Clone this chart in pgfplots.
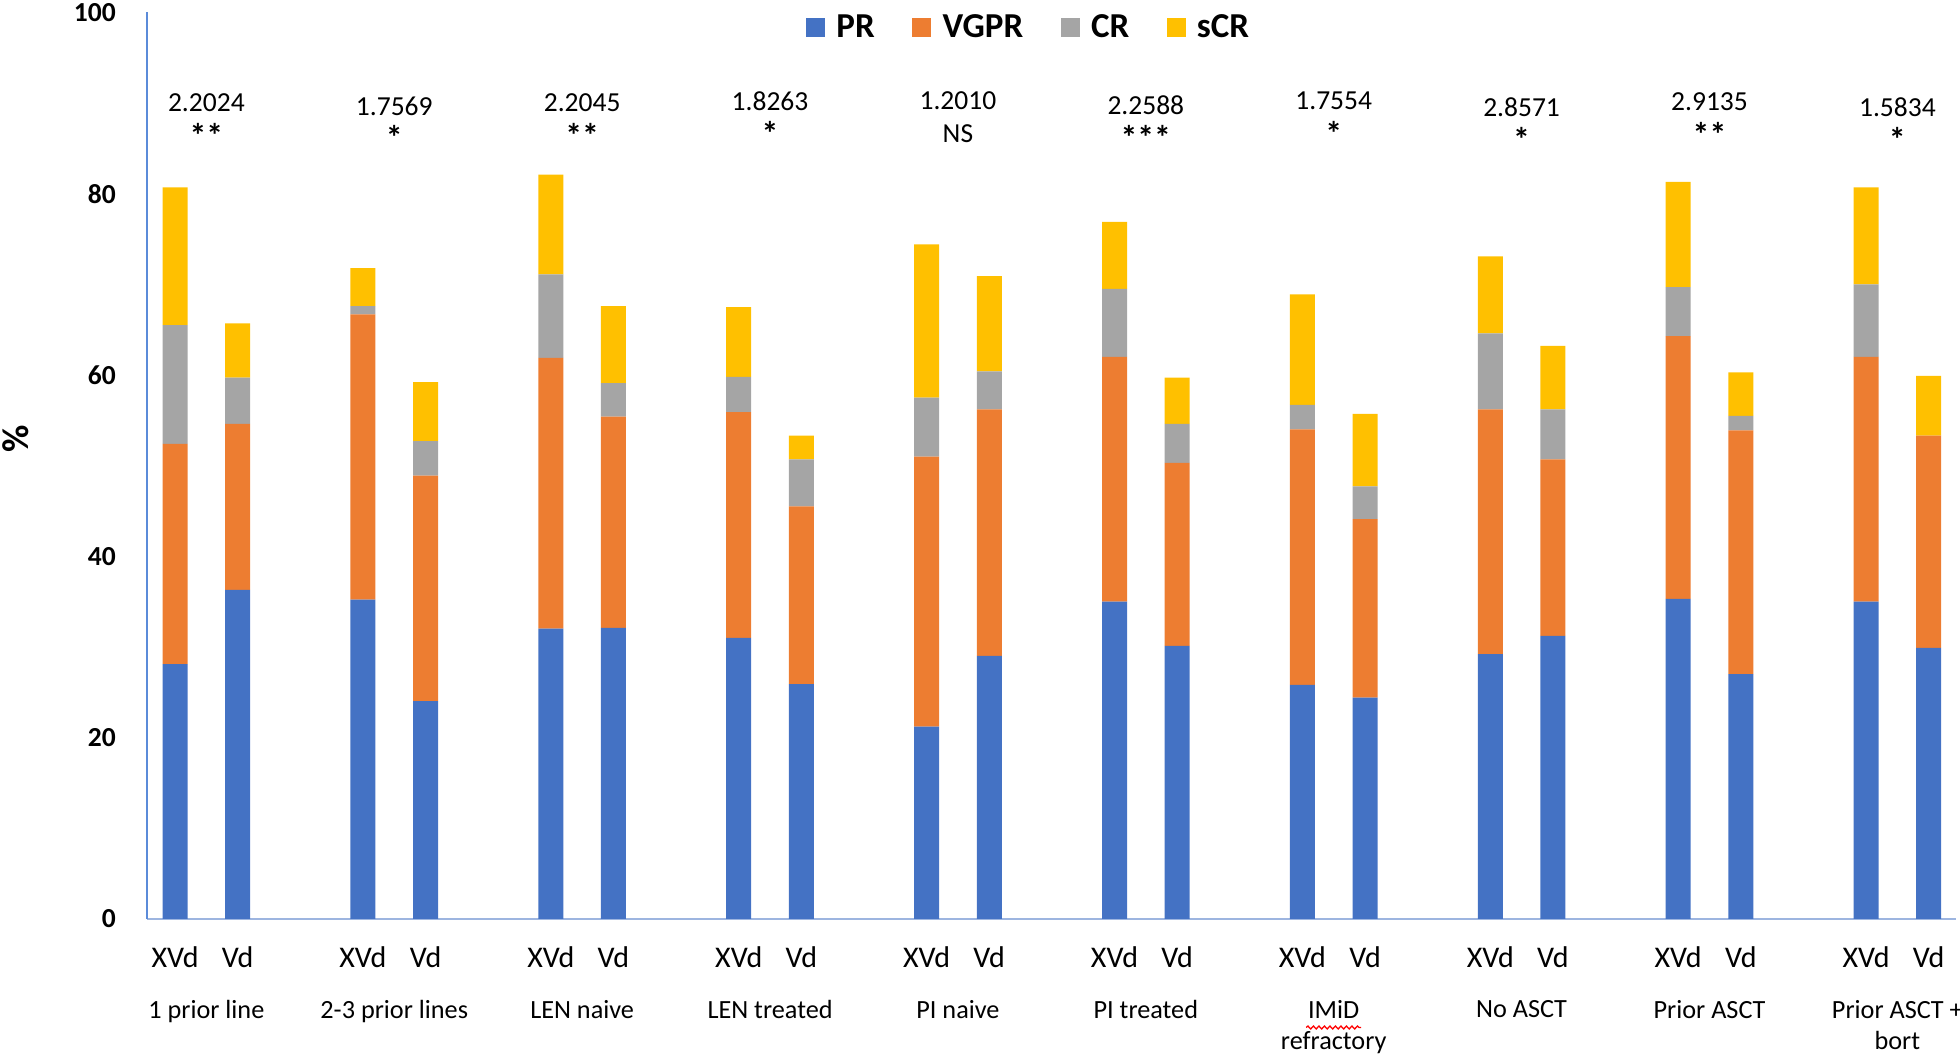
\documentclass[border=0pt]{standalone}
\usepackage{fontspec}
\setmainfont{Carlito}
\usepackage{pgfplots}
\usepackage{pgfplotstable}
\pgfplotsset{compat=1.18}
\usetikzlibrary{decorations.pathmorphing}
\definecolor{cPR}{HTML}{4472C4}
\definecolor{cVGPR}{HTML}{ED7D31}
\definecolor{cCR}{HTML}{A5A5A5}
\definecolor{csCR}{HTML}{FFC000}
\definecolor{axblue}{HTML}{5B8BD9}
\definecolor{axblue2}{HTML}{9DB5E0}
\tikzset{
  numlab/.style={font=\fontsize{11}{13}\selectfont, inner sep=0pt},
  starlab/.style={font=\fontsize{13.5}{15}\selectfont\bfseries, inner sep=0pt, anchor=base, yshift=-4.6pt},
  grplab/.style={font=\fontsize{10.5}{12.5}\selectfont, inner sep=0pt, anchor=north, align=center, yshift=-32.5pt},
}
\pgfplotsset{sqlegend/.style={legend image code/.code={\fill[##1] (0pt,-3.6pt) rectangle (7.6pt,4pt);}}}

\pgfplotstableread{
x PR VGPR CR sCR
0 28.1 24.3 13.1 15.2
1 36.3 18.3 5.1 6.0
3 35.2 31.5 0.9 4.2
4 24.0 24.9 3.8 6.5
6 32.0 29.9 9.2 11.0
7 32.1 23.3 3.7 8.5
9 31.0 24.9 3.9 7.7
10 25.9 19.6 5.2 2.6
12 21.2 29.8 6.5 16.9
13 29.0 27.2 4.2 10.5
15 35.0 27.0 7.5 7.4
16 30.1 20.2 4.3 5.1
18 25.8 28.2 2.7 12.2
19 24.4 19.7 3.6 8.0
21 29.2 27.0 8.4 8.5
22 31.2 19.5 5.5 7.0
24 35.3 29.0 5.4 11.6
25 27.0 26.9 1.6 4.8
27 35.0 27.0 8.0 10.7
28 29.9 23.4 0.0 6.6
}\data

\begin{document}
\begin{tikzpicture}
\begin{axis}[
  scale only axis, width=723.5pt, height=362.5pt,
  xmin=-0.44, xmax=28.44, ymin=0, ymax=100,
  ybar stacked, bar width=10pt,
  axis x line*=bottom, axis y line*=left,
  x axis line style={color=axblue2, line width=0.8pt},
  y axis line style={color=axblue, line width=0.8pt},
  ytick={0,20,40,60,80,100}, major tick length=0pt,
  /pgf/number format/assume math mode=true,
  yticklabel style={font=\fontsize{11}{13}\selectfont\bfseries, inner sep=0pt, anchor=east, xshift=-12.5pt},
  xtick={0,1,3,4,6,7,9,10,12,13,15,16,18,19,21,22,24,25,27,28},
  xticklabels={XVd,Vd,XVd,Vd,XVd,Vd,XVd,Vd,XVd,Vd,XVd,Vd,XVd,Vd,XVd,Vd,XVd,Vd,XVd,Vd},
  xticklabel style={font=\fontsize{12}{14}\selectfont, inner sep=0pt, anchor=base, yshift=-19.5pt},
  ylabel={\%},
  ylabel style={font=\fontsize{15}{17}\selectfont\bfseries, at={(axis description cs:-0.073,0.53)}, anchor=center},
  legend columns=4,
  legend style={draw=none, fill=none, at={(axis description cs:0.488,0.983)}, anchor=center,
    font=\fontsize{14}{16}\selectfont\bfseries, inner sep=0pt,
    /tikz/every odd column/.append style={column sep=2.5pt},
    /tikz/every even column/.append style={column sep=13pt}},
  sqlegend,
  clip=false,
]
\addplot[fill=cPR, draw=none] table[x=x,y=PR]{\data};
\addplot[fill=cVGPR, draw=none] table[x=x,y=VGPR]{\data};
\addplot[fill=cCR, draw=none] table[x=x,y=CR]{\data};
\addplot[fill=csCR, draw=none] table[x=x,y=sCR]{\data};
\legend{PR,VGPR,CR,sCR}

\node[numlab] at (axis cs:0.5,90.0) {2.2024};
\node[numlab] at (axis cs:3.5,89.6) {1.7569};
\node[numlab] at (axis cs:6.5,90.0) {2.2045};
\node[numlab] at (axis cs:9.5,90.2) {1.8263};
\node[numlab] at (axis cs:12.5,90.3) {1.2010};
\node[numlab] at (axis cs:15.5,89.8) {2.2588};
\node[numlab] at (axis cs:18.5,90.3) {1.7554};
\node[numlab] at (axis cs:21.5,89.6) {2.8571};
\node[numlab] at (axis cs:24.5,90.2) {2.9135};
\node[numlab] at (axis cs:27.5,89.6) {1.5834};
\node[starlab] at (axis cs:0.5,86.4) {**};
\node[starlab] at (axis cs:3.5,86.1) {*};
\node[starlab] at (axis cs:6.5,86.4) {**};
\node[starlab] at (axis cs:9.5,86.6) {*};
\node[numlab] at (axis cs:12.5,86.6) {NS};
\node[starlab] at (axis cs:15.5,86.1) {***};
\node[starlab] at (axis cs:18.5,86.6) {*};
\node[starlab] at (axis cs:21.5,85.9) {*};
\node[starlab] at (axis cs:24.5,86.5) {**};
\node[starlab] at (axis cs:27.5,85.9) {*};

\node[grplab] at (axis cs:0.5,0) {1 prior line};
\node[grplab] at (axis cs:3.5,0) {2-3 prior lines};
\node[grplab] at (axis cs:6.5,0) {LEN naive};
\node[grplab] at (axis cs:9.5,0) {LEN treated};
\node[grplab] at (axis cs:12.5,0) {PI naive};
\node[grplab] at (axis cs:15.5,0) {PI treated};
\node[grplab] at (axis cs:18.5,0) {IMiD\\refractory};
\node[grplab] at (axis cs:21.5,0) {No ASCT};
\node[grplab] at (axis cs:24.5,0) {Prior ASCT};
\node[grplab] at (axis cs:27.5,0) {Prior ASCT +\\bort};
\coordinate (imid) at (axis cs:18.5,0);
\end{axis}
\draw[red, line width=0.5pt, decorate, decoration={snake, amplitude=0.6pt, segment length=2.2pt}]
  ([xshift=-11pt,yshift=-43.5pt]imid) -- ([xshift=11pt,yshift=-43.5pt]imid);
\pgfresetboundingbox
\path (-59pt,-55.5pt) rectangle (725pt,367.5pt);
\end{tikzpicture}
\end{document}
